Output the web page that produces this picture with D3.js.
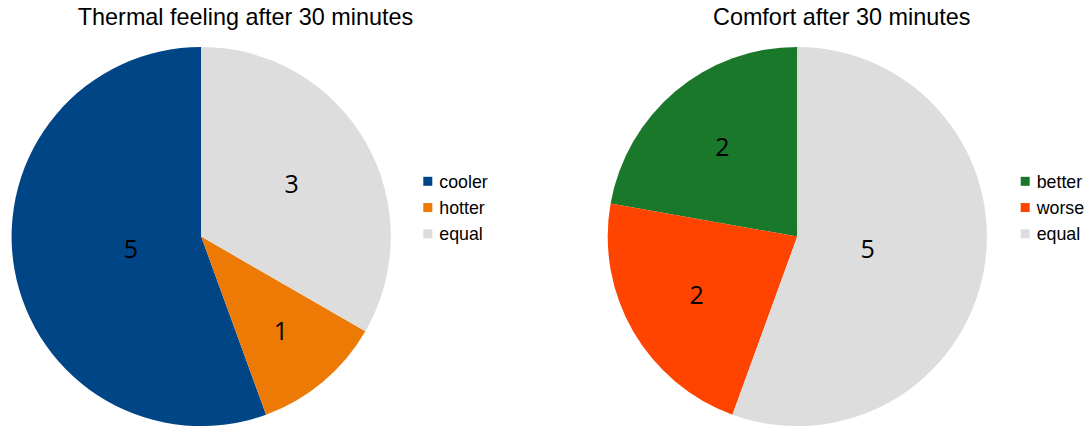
<!DOCTYPE html>
<html>
<head>
<meta charset="utf-8">
<script src="https://cdn.jsdelivr.net/npm/d3@7"></script>
<style>
  html, body { margin: 0; padding: 0; background: #ffffff; }
  svg { display: block; }
</style>
</head>
<body>
<svg id="chart" width="1088" height="429"></svg>
<script>
// Survey answers after 30 minutes
const thermalTitle = "Thermal feeling after 30 minutes";
const thermalCategories = ["cooler", "hotter", "equal"];
const thermalValues = [5, 1, 3];
const thermalColors = ["#004586", "#ec7a05", "#dddddd"];

const comfortTitle = "Comfort after 30 minutes";
const comfortCategories = ["better", "worse", "equal"];
const comfortValues = [2, 2, 5];
const comfortColors = ["#19782a", "#ff4300", "#dddddd"];

const svg = d3.select("#chart");
const radius = 189.6;

// Slices run counter-clockwise from 12 o'clock
const pie = d3.pie().sort(null).startAngle(0).endAngle(-2 * Math.PI);
const arc = d3.arc().innerRadius(0).outerRadius(radius);

function drawPie(cfg) {
  const g = svg.append("g").attr("transform", `translate(${cfg.cx},${cfg.cy})`);
  const data = cfg.categories.map((c, i) => ({ category: c, value: cfg.values[i] }));
  const color = d3.scaleOrdinal().domain(cfg.categories).range(cfg.colors);
  const arcs = pie.value(d => d.value)(data);

  g.selectAll("path.slice")
    .data(arcs)
    .join("path")
    .attr("class", "slice")
    .attr("d", arc)
    .attr("fill", d => color(d.data.category));

  // value labels at each sector's area centroid
  const labelSize = 25;
  g.selectAll("text.value")
    .data(arcs)
    .join("text")
    .attr("class", "value")
    .attr("text-anchor", "middle")
    .attr("font-family", "'Open Sans', sans-serif")
    .attr("font-size", labelSize)
    .attr("fill", "#000")
    .attr("x", d => {
      const span = Math.abs(d.endAngle - d.startAngle);
      const dist = 4 * radius * Math.sin(span / 2) / (3 * span);
      const mid = (d.startAngle + d.endAngle) / 2;
      return dist * Math.sin(mid);
    })
    .attr("y", d => {
      const span = Math.abs(d.endAngle - d.startAngle);
      const dist = 4 * radius * Math.sin(span / 2) / (3 * span);
      const mid = (d.startAngle + d.endAngle) / 2;
      return -dist * Math.cos(mid) + labelSize * 0.36;
    })
    .text(d => d.data.value);

  // title
  svg.append("text")
    .attr("x", cfg.titleX)
    .attr("y", 25)
    .attr("text-anchor", "middle")
    .attr("font-family", "'Liberation Sans', Arial, sans-serif")
    .attr("font-size", 23.4)
    .attr("fill", "#000")
    .text(cfg.title);

  // legend
  const legendY = d3.scalePoint().domain(cfg.categories).range([181.3, 233.8]);
  const lg = svg.append("g").attr("transform", `translate(${cfg.legendX},0)`);
  const items = lg.selectAll("g.item")
    .data(cfg.categories)
    .join("g")
    .attr("class", "item")
    .attr("transform", d => `translate(0,${legendY(d)})`);
  items.append("rect")
    .attr("x", 0).attr("y", -4.5)
    .attr("width", 9).attr("height", 9)
    .attr("fill", d => color(d));
  items.append("text")
    .attr("x", 16).attr("y", 6.4)
    .attr("font-family", "'Liberation Sans', Arial, sans-serif")
    .attr("font-size", 17.8)
    .attr("fill", "#000")
    .text(d => d);
}

drawPie({
  title: thermalTitle, categories: thermalCategories, values: thermalValues, colors: thermalColors,
  cx: 201.2, cy: 236.5, titleX: 245.5, legendX: 423.3
});
drawPie({
  title: comfortTitle, categories: comfortCategories, values: comfortValues, colors: comfortColors,
  cx: 797.3, cy: 236.5, titleX: 841.7, legendX: 1020.7
});
</script>
</body>
</html>
